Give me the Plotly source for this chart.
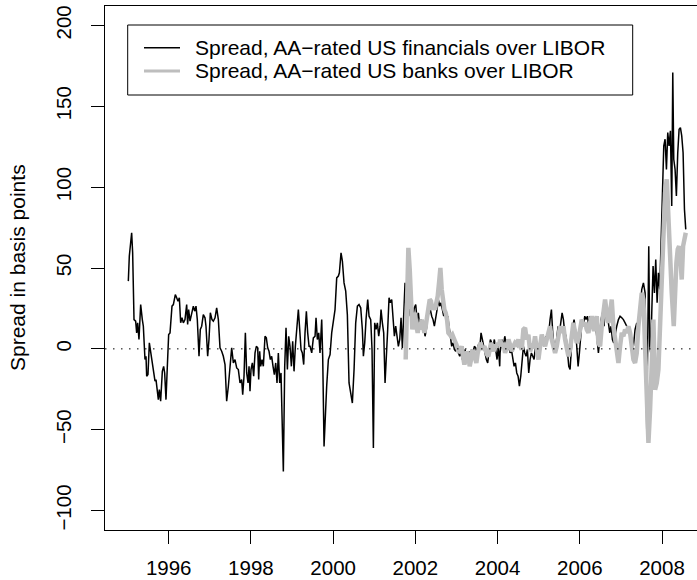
import plotly.graph_objects as go

# ---------------- data ----------------
fin_year = [
 1995.018,1995.042,1995.099,1995.123,1995.156,1995.196,1995.221,1995.245,1995.277,1995.318,
 1995.358,1995.383,1995.423,1995.448,1995.464,1995.496,1995.529,1995.561,1995.602,1995.642,
 1995.667,1995.691,1995.723,1995.748,1995.772,1995.804,1995.845,1995.877,1995.902,1995.934,
 1995.967,1995.999,1996.032,1996.056,1996.080,1996.113,1996.161,1996.194,1996.226,1996.259,
 1996.291,1996.323,1996.356,1996.396,1996.437,1996.461,1996.485,1996.518,1996.550,1996.599,
 1996.631,1996.664,1996.696,1996.737,1996.769,1996.802,1996.842,1996.883,1996.907,1996.948,
 1996.980,1997.013,1997.053,1997.086,
 1997.127,1997.167,1997.208,1997.248,1997.289,1997.329,1997.370,1997.410,1997.451,1997.491,
 1997.532,1997.573,1997.613,1997.654,1997.694,1997.735,1997.775,1997.800,1997.832,1997.865,
 1997.897,1997.930,1997.954,1997.978,1998.002,1998.035,1998.067,1998.100,1998.132,1998.165,
 1998.189,1998.213,1998.237,1998.270,1998.302,1998.343,1998.375,1998.408,1998.440,1998.473,
 1998.505,1998.538,1998.570,1998.603,1998.635,1998.667,1998.700,1998.732,1998.789,1998.822,
 1998.854,1998.887,1998.919,1998.951,1998.984,1999.016,1999.049,1999.081,1999.114,1999.154,
 1999.187,1999.219,1999.251,1999.284,1999.316,1999.349,1999.381,1999.414,
 1999.438,1999.479,1999.519,1999.560,1999.584,1999.616,1999.649,1999.681,1999.722,1999.746,
 1999.779,1999.811,1999.843,1999.884,1999.925,1999.965,2000.006,2000.046,2000.087,2000.127,
 2000.152,2000.192,2000.225,2000.265,2000.306,2000.346,2000.387,2000.427,2000.468,2000.509,
 2000.549,2000.590,2000.630,2000.671,2000.711,2000.736,2000.768,2000.800,2000.841,2000.874,
 2000.914,2000.946,2000.979,2001.011,2001.044,2001.076,2001.109,2001.141,2001.165,2001.198,
 2001.230,2001.263,2001.295,2001.327,2001.360,2001.392,2001.425,2001.457,2001.490,2001.522,
 2001.555,2001.587,2001.620,2001.652,2001.684,2001.717,
 2001.749,2001.781,2001.814,2001.846,2001.879,2001.911,2001.944,2001.976,2002.009,2002.041,
 2002.073,2002.106,2002.138,2002.171,2002.203,2002.236,2002.268,2002.300,2002.333,2002.365,
 2002.398,2002.430,2002.463,2002.495,2002.528,2002.560,2002.592,2002.625,2002.657,2002.690,
 2002.722,2002.755,2002.787,2002.820,2002.852,2002.884,2002.917,2002.949,2002.982,2003.014,
 2003.047,2003.079,2003.111,2003.144,2003.176,2003.209,2003.241,2003.274,2003.306,2003.339,
 2003.371,2003.403,2003.436,2003.468,2003.500,2003.533,2003.565,2003.598,2003.630,2003.662,
 2003.695,2003.727,2003.760,2003.792,2003.825,2003.857,2003.890,2003.922,2003.955,2003.987,
 2004.020,2004.052,
 2004.061,2004.102,2004.142,2004.175,2004.207,2004.240,2004.272,2004.304,2004.337,2004.369,
 2004.402,2004.434,2004.467,2004.499,2004.531,2004.564,2004.596,2004.629,2004.661,2004.693,
 2004.726,2004.758,2004.791,2004.823,2004.856,2004.888,2004.921,2004.953,2004.986,2005.018,
 2005.050,2005.083,2005.115,2005.148,2005.180,2005.213,2005.245,2005.277,2005.310,2005.342,
 2005.375,2005.407,2005.440,2005.472,2005.504,2005.537,2005.570,2005.602,2005.634,2005.667,
 2005.699,2005.732,2005.764,2005.796,2005.829,2005.861,2005.894,2005.926,2005.959,2005.991,
 2006.024,2006.056,2006.089,2006.121,2006.153,2006.186,2006.218,2006.251,2006.283,2006.315,
 2006.348,
 2006.372,2006.413,2006.453,2006.485,2006.518,2006.550,2006.591,2006.631,2006.664,2006.696,
 2006.729,2006.761,2006.794,2006.826,2006.859,2006.899,2006.940,2006.980,2007.021,2007.061,
 2007.102,2007.142,2007.183,2007.224,2007.264,2007.305,2007.345,2007.386,2007.426,2007.467,
 2007.507,2007.548,2007.589,2007.629,2007.654,2007.678,2007.702,2007.726,2007.751,2007.783,
 2007.816,2007.848,2007.881,2007.913,2007.945,2007.978,2008.010,2008.043,2008.075,2008.108,
 2008.140,2008.172,2008.205,2008.237,2008.262,2008.286,2008.318,2008.350,2008.383,2008.416,
 2008.448,2008.480,2008.513,2008.546,2008.578,
]
fin_spread = [
 41.9,57.4,71.8,59.4,18.1,17.1,9.9,16.1,5.8,27.4,
 18.1,14.0,-6.6,-4.6,-16.9,-15.9,3.7,-2.5,-8.7,-16.9,
 -20.0,-19.0,-25.2,-31.4,-25.2,-32.4,-13.9,-10.8,-14.9,-31.4,
 -10.8,8.8,9.9,16.1,26.4,27.4,33.6,31.6,29.5,31.6,
 16.1,19.2,16.1,18.1,27.4,15.1,24.3,17.1,20.2,26.4,
 23.3,26.4,18.1,-4.6,12.0,14.0,21.2,19.2,14.0,-4.6,
 5.8,22.3,18.1,17.1,
 19.2,25.4,18.1,0.6,-1.5,-4.6,-9.7,-32.4,-23.1,-8.7,
 0.6,-8.7,-6.6,-11.8,-12.8,-21.1,-19.0,-28.3,-16.9,9.9,
 -14.9,-21.1,-10.8,-26.2,-12.8,-8.7,-16.9,-2.5,1.6,0.6,
 -19.0,-1.5,-10.8,-6.6,-10.8,7.8,6.8,0.6,-1.5,-6.6,
 -4.6,-10.8,-15.9,-8.7,-21.1,-2.5,-21.1,-14.9,-75.8,-10.8,
 13.0,-12.8,7.8,1.6,-10.8,4.7,-13.9,1.6,12.0,24.3,
 12.0,-0.4,-2.5,-9.7,9.9,23.3,9.9,1.6,
 1.6,-2.5,6.8,7.8,19.2,5.8,9.9,-2.5,18.1,-4.6,
 -60.3,-37.6,-23.1,-6.6,-3.5,9.9,16.1,24.3,43.9,45.0,
 47.0,59.4,54.3,40.8,35.7,21.2,-21.1,-27.3,-33.5,-12.8,
 16.1,26.4,27.4,25.4,12.0,-4.6,3.7,18.1,30.5,20.2,
 18.1,-0.4,-61.3,16.1,12.0,16.1,7.8,14.0,24.3,16.1,
 9.9,-21.1,-6.6,12.0,31.6,28.5,30.5,18.1,7.8,14.0,
 5.8,1.6,5.8,19.2,0.6,24.3,
 40.8,35.0,26.4,28.5,20.2,22.3,20.2,25.4,27.4,18.1,
 22.3,14.0,18.1,12.0,14.0,7.8,12.0,20.2,22.3,24.3,
 20.2,18.1,14.0,18.1,24.3,30.5,26.4,28.5,24.3,20.2,
 24.3,18.1,20.2,14.0,5.8,1.6,3.7,-0.4,-1.5,1.6,
 -2.5,-4.6,-2.5,-6.6,-2.5,-0.4,-4.6,-6.6,-1.5,-4.6,
 -0.4,-2.5,1.6,0.6,-2.5,2.7,-0.4,9.9,5.8,1.6,
 -4.6,-6.6,-8.7,-0.4,5.8,3.7,1.6,5.8,-2.5,-6.6,
 1.6,-10.8,
 -2.5,5.8,1.6,7.8,3.7,5.8,1.6,-2.5,-0.4,-6.6,
 -10.8,-8.7,-14.9,-16.9,-23.1,-16.9,-8.7,1.6,-2.5,-4.6,
 -0.4,-14.9,-6.6,-2.5,-4.6,-6.6,1.6,3.7,-1.5,1.6,
 3.7,2.7,6.8,5.8,7.8,5.8,9.9,18.1,24.3,9.9,
 1.6,-0.4,7.8,14.0,9.9,18.1,22.3,18.1,9.9,7.8,
 -2.5,-10.8,-12.8,1.6,14.0,18.1,12.0,1.6,-10.8,-2.5,
 12.0,18.1,14.0,20.2,18.1,20.2,14.0,20.2,16.1,12.0,
 14.0,
 18.1,7.8,-2.5,5.8,18.1,22.3,14.0,28.5,22.3,16.1,
 9.9,14.0,5.8,3.7,9.9,14.0,18.1,20.2,19.2,18.1,
 16.1,14.0,9.9,12.0,5.8,1.6,12.0,16.1,7.8,26.4,
 36.7,40.8,34.6,-50.0,14.0,63.5,1.6,-2.5,22.3,51.2,
 34.6,55.3,28.5,47.0,36.7,71.8,92.4,125.5,129.6,111.0,
 133.7,125.5,134.8,88.3,170.9,117.2,111.0,94.5,121.3,135.8,
 136.8,131.7,121.3,86.3,73.9,
]

bank_year = [
 2001.765,2001.798,2001.830,2001.863,2001.895,2001.927,2001.960,2001.992,2002.025,2002.057,
 2002.090,2002.122,2002.154,2002.187,2002.220,2002.252,2002.284,2002.317,2002.349,2002.381,
 2002.414,2002.446,2002.479,2002.511,2002.544,2002.576,2002.609,2002.641,2002.673,2002.706,
 2002.738,2002.771,2002.803,2002.835,2002.868,2002.900,2002.933,2002.965,2002.998,2003.030,
 2003.063,2003.095,2003.128,2003.160,2003.193,2003.225,2003.257,2003.290,2003.322,2003.354,
 2003.387,2003.419,2003.452,2003.484,2003.517,2003.550,2003.582,2003.614,2003.647,2003.679,
 2003.711,2003.744,2003.776,2003.809,2003.841,2003.873,2003.906,2003.939,2003.971,2004.003,
 2004.036,
 2004.061,2004.102,2004.142,2004.183,2004.223,2004.264,2004.304,2004.345,2004.386,2004.426,
 2004.467,2004.507,2004.548,2004.588,2004.628,2004.669,2004.710,2004.750,2004.791,2004.831,
 2004.872,2004.912,2004.953,2004.994,2005.034,2005.075,2005.115,2005.156,2005.196,2005.237,
 2005.277,2005.318,2005.358,2005.399,2005.440,2005.480,2005.521,2005.561,2005.602,2005.642,
 2005.683,2005.724,2005.764,2005.805,2005.845,2005.886,2005.926,2005.967,2006.007,2006.048,
 2006.088,2006.129,2006.169,2006.210,2006.250,2006.291,2006.331,2006.348,
 2006.372,2006.413,2006.453,2006.494,2006.534,2006.575,2006.615,2006.656,2006.696,2006.737,
 2006.777,2006.818,2006.858,2006.899,2006.940,2006.980,2007.021,2007.061,2007.102,2007.142,
 2007.183,2007.224,2007.264,2007.305,2007.345,2007.386,2007.426,2007.467,2007.507,2007.548,
 2007.589,2007.629,2007.670,2007.710,2007.751,2007.791,2007.832,2007.872,2007.913,2007.953,
 2007.994,2008.035,2008.075,2008.116,2008.148,2008.189,2008.237,2008.286,2008.319,2008.350,
 2008.383,2008.416,2008.448,2008.480,2008.513,2008.546,2008.578,
]
bank_spread = [
 -6.6,38.8,62.5,49.1,26.4,12.0,18.1,22.3,14.0,9.9,
 16.1,12.0,18.1,14.0,9.9,14.0,20.2,28.5,30.5,29.5,
 24.3,26.4,24.3,28.5,32.6,40.8,50.1,36.7,29.5,24.3,
 22.3,18.1,9.9,8.8,7.8,8.8,5.8,4.7,2.7,-0.4,
 -2.5,-0.4,1.6,-4.6,-9.7,-6.6,-1.5,-4.6,-10.8,-6.6,
 -0.4,-2.5,-6.6,-8.7,-2.5,1.6,3.7,1.6,-0.4,1.6,
 -1.5,-3.5,-4.6,0.6,3.7,1.6,-1.5,2.7,0.6,3.7,
 1.6,
 5.8,1.6,3.7,-2.5,0.6,5.8,2.7,-1.5,1.6,3.7,
 2.7,5.8,1.6,-0.4,12.0,13.0,5.8,8.8,-1.5,1.6,
 0.6,7.8,-0.4,-6.6,1.6,8.8,4.7,1.6,5.8,9.9,
 14.0,5.8,-0.4,-2.5,1.6,7.8,14.0,9.9,14.0,5.8,
 -0.4,-4.6,-0.4,12.0,16.1,9.9,3.7,5.8,12.0,18.1,
 14.0,16.1,12.0,9.9,16.1,20.2,14.0,11.0,
 16.1,20.2,3.7,1.6,14.0,22.3,30.5,22.3,16.1,22.3,
 30.5,14.0,5.8,-2.5,-8.7,1.6,9.9,7.8,12.0,9.9,
 14.0,9.9,1.6,-6.6,-8.7,-2.5,14.0,24.3,34.6,30.5,
 -2.5,-27.3,-58.2,-37.6,-6.6,18.1,-25.2,-21.1,-12.8,14.0,
 51.2,80.1,96.6,104.8,84.2,55.3,34.6,14.0,36.7,53.2,
 61.5,63.5,55.3,42.9,63.5,67.7,71.8,
]

series_names = ["Spread, AA\u2212rated US financials over LIBOR",
                "Spread, AA\u2212rated US banks over LIBOR"]
x_ticks = [1996, 1998, 2000, 2002, 2004, 2006, 2008]
y_ticks = [-100, -50, 0, 50, 100, 150, 200]
y_title = "Spread in basis points"

# ---------------- figure ----------------
FONT = "Liberation Sans, Arial, Helvetica, sans-serif"
FS = 20.5      # tick labels
FS_TXT = 21    # legend text and axis title
W, H = 697, 580
ML, MR, MT, MB = 105, 0, 6, 50
PW, PH = W - ML - MR, H - MT - MB

def px_x(p):
    return (p - ML) / PW

def px_y(p):
    return (H - MB - p) / PH

fig = go.Figure()
fig.add_trace(go.Scatter(x=fin_year, y=fin_spread, mode="lines",
                         line=dict(color="black", width=1.5),
                         name=series_names[0], showlegend=False, hoverinfo="skip"))
fig.add_trace(go.Scatter(x=bank_year, y=bank_spread, mode="lines",
                         line=dict(color="#bebebe", width=4.5),
                         name=series_names[1], showlegend=False, hoverinfo="skip"))

# zero reference line (dotted)
fig.add_shape(type="line", xref="paper", x0=0, x1=1, yref="y", y0=0, y1=0,
              line=dict(color="black", width=1, dash="1.5px,6.5px"))

# legend box drawn by hand (R style)
fig.add_shape(type="rect", xref="paper", yref="paper",
              x0=px_x(127.7), x1=px_x(632.7), y0=px_y(95), y1=px_y(25),
              line=dict(color="black", width=1), fillcolor="white", layer="above")
for i, (yy, col, lw) in enumerate([(47.7, "black", 1.5), (71, "#bebebe", 3)]):
    fig.add_shape(type="line", xref="paper", yref="paper",
                  x0=px_x(144), x1=px_x(180), y0=px_y(yy), y1=px_y(yy),
                  line=dict(color=col, width=lw), layer="above")
    fig.add_annotation(xref="paper", yref="paper", x=px_x(193), y=px_y(yy),
                       xanchor="left", yanchor="middle", text=series_names[i],
                       showarrow=False, font=dict(family=FONT, size=FS_TXT, color="black"))

fig.add_annotation(xref="paper", yref="paper", x=px_x(17), y=px_y(268),
                   xanchor="center", yanchor="middle", text=y_title, textangle=-90,
                   showarrow=False, font=dict(family=FONT, size=FS_TXT, color="black"))

fig.update_layout(
    width=W, height=H,
    margin=dict(l=ML, r=MR, t=MT, b=MB, pad=0, autoexpand=False),
    paper_bgcolor="white", plot_bgcolor="white",
    font=dict(family=FONT, size=FS, color="black"),
    showlegend=False, hovermode=False,
)
fig.update_xaxes(range=[1994.4504, 2008.8514], tickvals=x_ticks, automargin=False,
                 ticks="outside", ticklen=13, tickwidth=1, tickcolor="black",
                 ticklabelstandoff=6,
                 showline=True, linecolor="black", linewidth=1.3, mirror=True,
                 showgrid=False, zeroline=False,
                 tickfont=dict(family=FONT, size=FS, color="black"))
fig.update_yaxes(range=[-112, 212], tickvals=y_ticks, tickangle=-90, automargin=False,
                 ticks="outside", ticklen=13, tickwidth=1, tickcolor="black",
                 ticklabelstandoff=12,
                 showline=True, linecolor="black", linewidth=1.3, mirror=True,
                 showgrid=False, zeroline=False,
                 tickfont=dict(family=FONT, size=FS, color="black"))

fig.write_html("out.html", config={"displayModeBar": False, "staticPlot": True},
               post_script="document.body.style.margin='0';document.body.style.overflow='hidden';")
